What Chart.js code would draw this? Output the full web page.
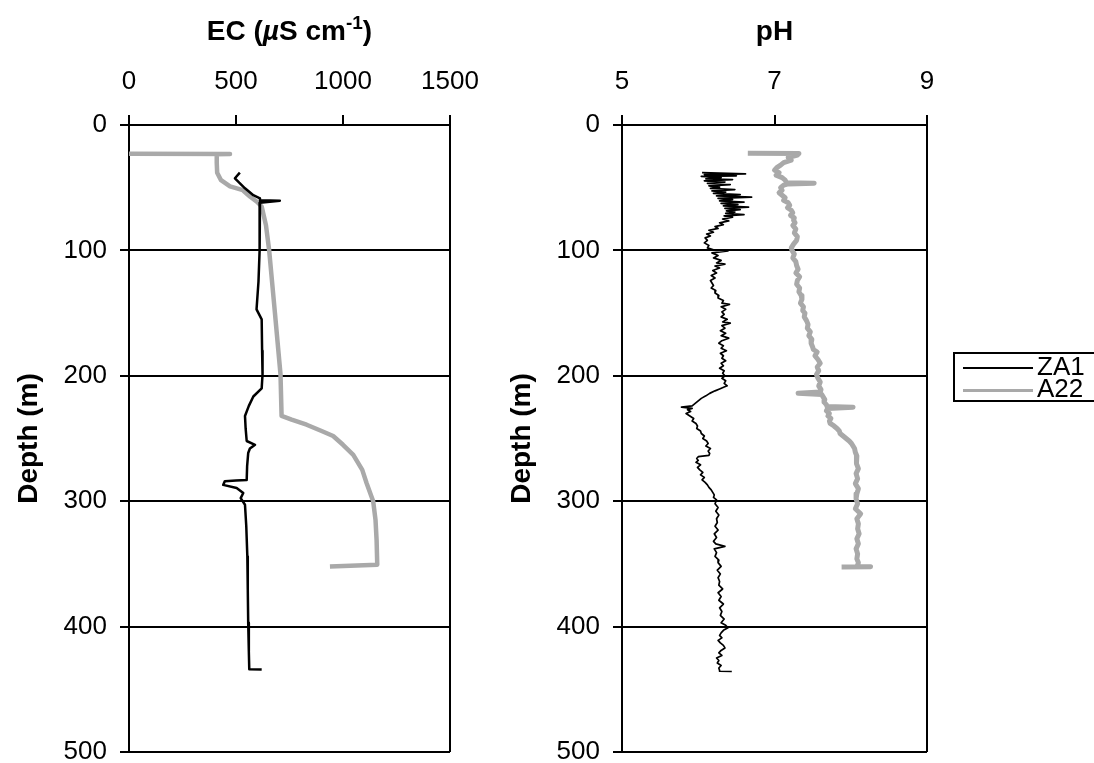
<!DOCTYPE html>
<html>
<head>
<meta charset="utf-8">
<title>EC and pH depth profiles</title>
<script src="https://cdn.jsdelivr.net/npm/chart.js"></script>
<style>
  body { margin: 0; background: #fff; width: 1094px; height: 763px; overflow: hidden; position: relative; }
  #ecChart { position: absolute; left: 0; top: 0; }
  #phChart { position: absolute; left: 480px; top: 0; }
  #legend {
    position: absolute; left: 953px; top: 352px; width: 170px; height: 46px;
    border: 2px solid #000; background: #fff;
    font-family: "Liberation Sans", Arial, sans-serif; font-size: 26px; color: #000;
  }
  #legend .row { position: absolute; left: 8px; height: 24px; line-height: 24px; white-space: nowrap; }
  #legend .swatch { display: inline-block; width: 70px; vertical-align: middle; margin-right: 4px; }
</style>
</head>
<body>
<canvas id="ecChart" width="500" height="800"></canvas>
<canvas id="phChart" width="614" height="800"></canvas>
<div id="legend"></div>
<script>
'use strict';

// axis ticks
const depthTicks = [0, 100, 200, 300, 400, 500];
const ecTicks = [0, 500, 1000, 1500];
const phTicks = [5, 7, 9];

// EC profiles (depth in m, EC in uS/cm)
const ecDepthZA1 = [38, 42.5, 46, 50.5, 56, 58.5, 60, 60.4, 62, 64,
  80, 100, 125, 147, 150, 155, 180, 199, 210, 216.5,
  224, 232, 242, 252, 255, 258, 261.6, 272, 283, 283.5,
  284, 287, 289.5, 293.5, 297.5, 302.8, 320, 344, 370, 397,
  420, 434, 434.3];
const ecZA1 = [518, 495, 515, 542, 581, 612, 612, 705, 612, 612,
  610, 609, 605, 596, 605, 620, 622, 624, 620, 581,
  560, 542, 545, 550, 589, 565, 557, 552, 550, 500,
  448, 440, 503, 534, 522, 542, 548, 553, 555, 557,
  560, 562, 620];

const ecDepthA22 = [23, 23.2, 23.4, 30, 38, 44, 49, 52, 57, 61,
  65, 80, 100, 150, 199, 232, 235, 239, 244, 248,
  255, 263, 275, 285.5, 300, 315, 331, 350.6, 352];
const ecA22 = [0, 472, 410, 410, 412, 430, 472, 532, 565, 596,
  620, 640, 655, 682, 708, 713, 760, 830, 900, 954,
  1000, 1048, 1090, 1110, 1141, 1152, 1157, 1160, 939];

// pH profiles
const phDepthZA1 = [
  38, 39, 39.5, 40.5, 41, 42, 43, 43.5, 44.5, 45.5,
  46.5, 47.5, 48.5, 49.5, 50.5, 51.5, 52.5, 53.5, 54.5, 55.5,
  56.5, 57.5, 58.5, 59.5, 60.5, 61.5, 62.5, 63.5, 64.5, 65.5,
  66.5, 67.5, 68.5, 69.5, 70.5, 71.5, 72.5, 73.5, 75, 76.5,
  78, 79.5, 81, 82.5, 84, 85.5, 87, 88.5, 90, 92,
  94, 96, 98, 99.5, 100.5, 102, 104, 106, 108, 110,
  111, 112.5, 114, 116, 118, 120, 122, 124, 126, 128,
  130, 132, 134, 136, 138, 140, 142, 143, 145, 147,
  149, 151, 153, 155, 157, 158, 160, 162, 164, 166,
  168, 170, 172, 174, 176, 178, 180, 182, 184, 186,
  188, 190, 192, 194, 196, 198, 200, 202, 204, 206,
  208, 209, 210.5, 212, 214, 216, 218, 220, 222, 224,
  225, 226, 227, 228.5, 230, 232, 234, 236, 238, 240,
  242, 244, 246, 248, 250, 252, 254, 256, 258, 260,
  262, 263.5, 264.5, 266, 267.5, 269, 271, 273, 275, 277,
  279, 281, 283, 285, 287, 289, 291, 293, 295, 297,
  299, 302, 305, 308, 311, 314, 317, 320, 323, 326,
  329, 332, 334, 336, 338, 341, 344, 347, 349, 352,
  355, 358, 361, 364, 367, 370, 373, 376, 379, 382,
  385, 388, 391, 394, 397, 399, 401, 403, 405, 407,
  409, 411, 413, 415, 417, 419, 421, 423, 425, 427,
  429, 431, 433, 435, 435.6, 435.8];
const phZA1 = [
  6.05, 6.62, 6.08, 6.50, 6.04, 6.30, 6.10, 6.45, 6.08, 6.35,
  6.12, 6.42, 6.14, 6.28, 6.16, 6.48, 6.18, 6.36, 6.20, 6.55,
  6.24, 6.70, 6.26, 6.45, 6.28, 6.60, 6.30, 6.52, 6.33, 6.66,
  6.35, 6.55, 6.37, 6.48, 6.36, 6.60, 6.34, 6.45, 6.32, 6.40,
  6.28, 6.33, 6.22, 6.26, 6.14, 6.20, 6.11, 6.16, 6.09, 6.12,
  6.08, 6.14, 6.12, 6.20, 6.39, 6.18, 6.26, 6.20, 6.30, 6.24,
  6.35, 6.22, 6.28, 6.19, 6.24, 6.17, 6.22, 6.16, 6.18, 6.20,
  6.17, 6.23, 6.22, 6.27, 6.26, 6.33, 6.31, 6.41, 6.30, 6.36,
  6.31, 6.34, 6.30, 6.38, 6.32, 6.42, 6.31, 6.35, 6.29, 6.36,
  6.30, 6.40, 6.31, 6.27, 6.33, 6.30, 6.37, 6.29, 6.33, 6.31,
  6.36, 6.30, 6.33, 6.28, 6.34, 6.32, 6.35, 6.31, 6.36, 6.34,
  6.38, 6.34, 6.28, 6.22, 6.15, 6.10, 6.04, 6.00, 5.96, 5.92,
  5.78, 5.92, 5.86, 5.90, 5.84, 5.89, 5.94, 5.92, 5.97, 5.99,
  5.98, 6.03, 6.04, 6.08, 6.06, 6.11, 6.13, 6.10, 6.16, 6.13,
  6.15, 6.14, 6.00, 5.98, 6.00, 5.97, 6.03, 5.99, 6.02, 6.06,
  6.03, 6.08, 6.05, 6.09, 6.12, 6.14, 6.17, 6.19, 6.21, 6.20,
  6.24, 6.22, 6.26, 6.23, 6.27, 6.24, 6.25, 6.22, 6.26, 6.21,
  6.24, 6.20, 6.23, 6.35, 6.21, 6.24, 6.22, 6.27, 6.26, 6.30,
  6.25, 6.29, 6.26, 6.28, 6.27, 6.32, 6.26, 6.30, 6.27, 6.33,
  6.28, 6.31, 6.29, 6.34, 6.30, 6.36, 6.39, 6.33, 6.30, 6.28,
  6.31, 6.26, 6.29, 6.33, 6.35, 6.30, 6.27, 6.31, 6.24, 6.27,
  6.25, 6.30, 6.27, 6.28, 6.28, 6.44];

const phDepthA22 = [
  22.5, 22.7, 24, 26, 28, 30, 32, 34, 36, 38,
  40, 42, 44, 46, 46.5, 47, 48, 50, 52, 54,
  56, 58, 60, 62, 64, 66, 68, 70, 72, 74,
  76, 78, 80, 83, 86, 89, 92, 95, 98, 100,
  103, 106, 109, 112, 115, 118, 121, 124, 127, 130,
  133, 136, 139, 142, 145, 148, 150, 153, 156, 159,
  162, 165, 168, 171, 174, 177, 179, 181, 184, 187,
  190, 193, 196, 199, 202, 205, 208, 211, 213, 214,
  215, 217, 219, 221, 223, 224.5, 225, 226, 228, 230,
  232, 234, 236, 238, 240, 242, 244, 246, 248, 250,
  252, 254, 256, 258, 261, 264, 267, 270, 274, 278,
  282, 286, 290, 294, 298, 302, 306, 310, 314, 318,
  322, 326, 330, 334, 338, 342, 346, 349, 351, 352, 352.2, 352.4];
const phA22 = [
  6.65, 7.32, 7.30, 7.18, 7.22, 7.12, 7.08, 7.03, 7.00, 7.06,
  7.02, 7.10, 7.14, 7.16, 7.52, 7.18, 7.12, 7.08, 7.10, 7.06,
  7.10, 7.14, 7.12, 7.18, 7.20, 7.17, 7.22, 7.24, 7.21, 7.26,
  7.25, 7.27, 7.24, 7.28, 7.26, 7.30, 7.29, 7.25, 7.22, 7.23,
  7.26, 7.24, 7.28, 7.29, 7.31, 7.28, 7.33, 7.30, 7.29, 7.33,
  7.32, 7.35, 7.36, 7.34, 7.38, 7.37, 7.40, 7.39, 7.42, 7.44,
  7.43, 7.47, 7.45, 7.49, 7.48, 7.50, 7.51, 7.56, 7.53, 7.57,
  7.60, 7.56, 7.58, 7.55, 7.57, 7.60, 7.58, 7.61, 7.60, 7.31,
  7.62, 7.64, 7.66, 7.65, 7.68, 7.69, 8.03, 7.70, 7.68, 7.72,
  7.70, 7.74, 7.72, 7.73, 7.78, 7.82, 7.85, 7.86, 7.90, 7.94,
  7.98, 8.01, 8.03, 8.05, 8.06, 8.08, 8.07, 8.08, 8.10, 8.07,
  8.09, 8.06, 8.10, 8.08, 8.07, 8.09, 8.06, 8.13, 8.08, 8.10,
  8.09, 8.11, 8.08, 8.10, 8.07, 8.09, 8.08, 8.10, 8.09, 8.08, 8.26, 7.88];

const FONT = '"Liberation Sans", Arial, Helvetica, sans-serif';
const BLACK = '#000000';
const GREY = '#a9a9a9';

function toPoints(depths, values) {
  return depths.map((d, i) => ({ x: values[i], y: d }));
}

// title above the chart drawn as runs of text (italic mu, superscript)
const topTitle = {
  id: 'topTitle',
  afterDraw(chart, args, opts) {
    const ctx = chart.ctx;
    ctx.save();
    ctx.fillStyle = BLACK;
    ctx.textBaseline = 'alphabetic';
    let w = 0;
    opts.runs.forEach(r => { ctx.font = r.font; w += ctx.measureText(r.text).width; });
    let x = (chart.chartArea.left + chart.chartArea.right) / 2 - w / 2;
    opts.runs.forEach(r => {
      ctx.font = r.font;
      ctx.fillText(r.text, x, opts.y + (r.dy || 0));
      x += ctx.measureText(r.text).width;
    });
    ctx.restore();
  }
};

function depthAxis() {
  return {
    type: 'linear',
    reverse: true,
    min: 0,
    max: 500,
    afterBuildTicks: s => { s.ticks = depthTicks.map(v => ({ value: v })); },
    afterFit: s => { s.width = 129; },
    grid: { color: BLACK, lineWidth: 2, tickLength: 9 },
    border: { color: BLACK, width: 2 },
    ticks: { color: BLACK, font: { family: FONT, size: 26 }, padding: 13, callback: v => String(v) },
    title: {
      display: true, text: 'Depth (m)', color: BLACK,
      font: { family: FONT, size: 28, weight: 'bold' }, padding: { top: 12, bottom: 0 }
    }
  };
}

function valueAxis(min, max, ticks) {
  return {
    type: 'linear',
    position: 'top',
    min: min,
    max: max,
    afterBuildTicks: s => { s.ticks = ticks.map(v => ({ value: v })); },
    afterFit: s => { s.height = 125; },
    grid: {
      color: c => (c.tick && c.tick.value === max) ? BLACK : 'rgba(0,0,0,0)',
      tickColor: BLACK,
      lineWidth: 2,
      tickLength: 10
    },
    border: { color: BLACK, width: 2 },
    ticks: { color: BLACK, font: { family: FONT, size: 26 }, padding: 18, callback: v => String(v) }
  };
}

function profileChart(id, padding, xAxis, sets, runs) {
  return new Chart(document.getElementById(id), {
    type: 'scatter',
    data: { datasets: sets },
    options: {
      responsive: false,
      animation: false,
      layout: { padding: padding },
      scales: { x: xAxis, y: depthAxis() },
      plugins: {
        legend: { display: false },
        tooltip: { enabled: false },
        topTitle: { runs: runs, y: 40 }
      }
    },
    plugins: [topTitle]
  });
}

function series(label, points, color, width) {
  return {
    label: label,
    data: points,
    showLine: true,
    borderColor: color,
    backgroundColor: color,
    borderWidth: width,
    borderJoinStyle: 'round',
    pointRadius: 0,
    tension: 0
  };
}

const bold = 'bold 28px ' + FONT;

// right padding must cover half the last tick label plus ticks.padding
profileChart('ecChart', { left: 0, right: 50, top: 0, bottom: 48 },
  valueAxis(0, 1500, ecTicks),
  [
    series('ZA1', toPoints(ecDepthZA1, ecZA1), BLACK, 2.5),
    series('A22', toPoints(ecDepthA22, ecA22), GREY, 4.5)
  ],
  [
    { text: 'EC (', font: bold },
    { text: '\u00b5', font: 'italic bold 28px ' + FONT },
    { text: 'S cm', font: bold },
    { text: '-1', font: 'bold 19px ' + FONT, dy: -11 },
    { text: ')', font: bold }
  ]);

const phChart = profileChart('phChart', { left: 13, right: 167, top: 0, bottom: 48 },
  valueAxis(5, 9, phTicks),
  [
    series('ZA1', toPoints(phDepthZA1, phZA1), BLACK, 1.7),
    series('A22', toPoints(phDepthA22, phA22), GREY, 5)
  ],
  [{ text: 'pH', font: bold }]);

// legend built from the pH chart datasets
const legend = document.getElementById('legend');
phChart.data.datasets.forEach((ds, i) => {
  const row = document.createElement('div');
  row.className = 'row';
  row.style.top = (i === 0 ? 0 : 22) + 'px';
  const sw = document.createElement('span');
  sw.className = 'swatch';
  sw.style.borderTop = (i === 0 ? 2 : 3) + 'px solid ' + ds.borderColor;
  row.appendChild(sw);
  row.appendChild(document.createTextNode(ds.label));
  legend.appendChild(row);
});
</script>
</body>
</html>
